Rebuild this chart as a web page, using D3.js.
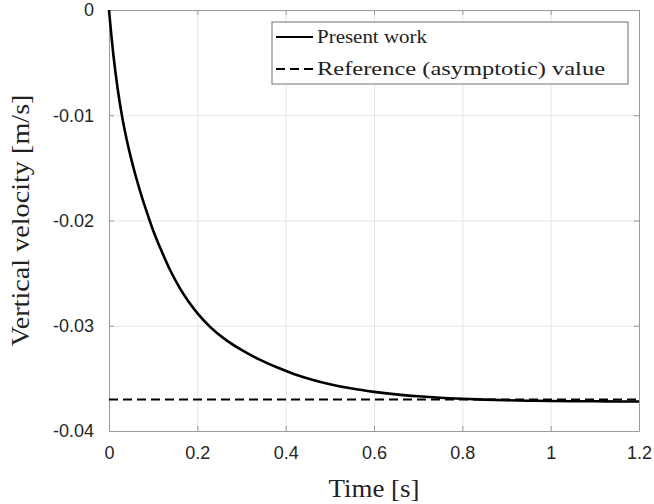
<!DOCTYPE html>
<html>
<head>
<style>
    body { margin: 0; background: #fff; }
    .tick text { font-family: "Liberation Sans", Arial, sans-serif; font-size: 18px; fill: #262626; }
    .frame path, .frame line { stroke: #9a9a9a; }
    .grid line { stroke: #e6e6e6; }
    .grid path { display: none; }
    .label { font-family: "Liberation Serif", "DejaVu Serif", serif; fill: #222; }
</style>
</head>
<body>
    <svg id="container" width="654" height="504">
        <g id="body" transform="translate(109, 10)"></g>
    </svg>
<script src="https://d3js.org/d3.v7.min.js"></script>
<script>
    // time [s] and vertical velocity [m/s]
    const timeValues = [0, 0.01, 0.02, 0.03, 0.04, 0.05, 0.06, 0.07, 0.08, 0.09, 0.10,
        0.12, 0.14, 0.16, 0.18, 0.20, 0.23, 0.26, 0.30, 0.34, 0.38, 0.42, 0.46, 0.50,
        0.55, 0.60, 0.65, 0.70, 0.75, 0.80, 0.85, 0.90, 0.95, 1.00, 1.05, 1.10, 1.15, 1.20];
    const presentWork = [0, -0.0043, -0.0076, -0.0102, -0.0123, -0.0141, -0.0157, -0.01715, -0.0185, -0.01975, -0.02095,
        -0.0230, -0.02485, -0.0264, -0.0277, -0.0288, -0.03015, -0.0312, -0.0323, -0.0332, -0.03395, -0.0346, -0.03512, -0.03555,
        -0.03597, -0.03628, -0.03652, -0.0367, -0.03684, -0.03694, -0.03702, -0.03708, -0.03712, -0.03715, -0.03717, -0.03718, -0.03719, -0.0372];
    const referenceValue = -0.037;
    const xTicks = [0, 0.2, 0.4, 0.6, 0.8, 1, 1.2];
    const yTicks = [0, -0.01, -0.02, -0.03, -0.04];
    const legendNames = ["Present work", "Reference (asymptotic) value"];
    const legendDash = ["none", "9,5"];

    let body = d3.select("#body");
    let bodyWidth = 530;
    let bodyHeight = 421;

    let xScale = d3.scaleLinear().domain([0, 1.2]).range([0, bodyWidth]);
    let yScale = d3.scaleLinear().domain([-0.04, 0]).range([bodyHeight, 0]);

    // grid
    body.append("g").attr("class", "grid")
        .attr("transform", "translate(0," + bodyHeight + ")")
        .call(d3.axisBottom(xScale).tickValues(xTicks).tickSize(-bodyHeight).tickFormat(""));
    body.append("g").attr("class", "grid")
        .call(d3.axisLeft(yScale).tickValues(yTicks).tickSize(-bodyWidth).tickFormat(""));

    // box with inward ticks
    let fmtX = (d) => String(+d.toFixed(1));
    let fmtY = (d) => d === 0 ? "0" : d.toFixed(2);
    body.append("g").attr("class", "frame")
        .attr("transform", "translate(0," + bodyHeight + ")")
        .call(d3.axisBottom(xScale).tickValues(xTicks).tickSizeInner(-5).tickSizeOuter(0).tickPadding(15).tickFormat(fmtX));
    body.append("g").attr("class", "frame")
        .call(d3.axisLeft(yScale).tickValues(yTicks).tickSizeInner(-5).tickSizeOuter(0).tickPadding(15).tickFormat(fmtY));
    body.append("g").attr("class", "frame")
        .call(d3.axisTop(xScale).tickValues(xTicks).tickSizeInner(-5).tickSizeOuter(0).tickFormat(""));
    body.append("g").attr("class", "frame")
        .attr("transform", "translate(" + bodyWidth + ",0)")
        .call(d3.axisRight(yScale).tickValues(yTicks).tickSizeInner(-5).tickSizeOuter(0).tickFormat(""));
    body.selectAll(".frame .tick text").attr("fill", "#262626");

    // reference line
    body.append("line")
        .attr("x1", xScale(0)).attr("x2", xScale(1.2))
        .attr("y1", yScale(referenceValue)).attr("y2", yScale(referenceValue))
        .attr("stroke", "black").attr("stroke-width", 2).attr("stroke-dasharray", "9,5");

    // present work curve
    let data = timeValues.map((t, i) => ({t: t, v: presentWork[i]}));
    let valueline = d3.line()
        .x((d) => xScale(d.t))
        .y((d) => yScale(d.v))
        .curve(d3.curveMonotoneX);
    body.append("path")
        .datum(data)
        .attr("d", valueline)
        .attr("fill", "none")
        .attr("stroke", "black")
        .attr("stroke-width", 2.6);

    // axis labels
    let svg = d3.select("#container");
    svg.append("text").attr("class", "label")
        .attr("x", 109 + bodyWidth / 2).attr("y", 497)
        .attr("text-anchor", "middle").attr("font-size", 25)
        .attr("textLength", 91).attr("lengthAdjust", "spacingAndGlyphs")
        .text("Time [s]");
    svg.append("text").attr("class", "label")
        .attr("transform", "translate(29," + (10 + bodyHeight / 2) + ") rotate(-90)")
        .attr("text-anchor", "middle").attr("font-size", 25)
        .attr("textLength", 252).attr("lengthAdjust", "spacingAndGlyphs")
        .text("Vertical velocity [m/s]");

    // legend
    let legend = svg.append("g").attr("transform", "translate(272, 22)");
    legend.append("rect")
        .attr("width", 356).attr("height", 62)
        .attr("fill", "white").attr("stroke", "#707070").attr("stroke-width", 1);
    let legendWidths = [110, 288];
    let rows = legend.selectAll(".row")
        .data(legendNames)
        .enter()
        .append("g")
        .attr("transform", (d, i) => "translate(0," + (15 + i * 32) + ")");
    rows.append("line")
        .attr("x1", 4).attr("x2", 41)
        .attr("stroke", "black").attr("stroke-width", 2)
        .attr("stroke-dasharray", (d, i) => legendDash[i]);
    rows.append("text").attr("class", "label")
        .attr("x", 45).attr("y", 6)
        .attr("font-size", 19)
        .attr("textLength", (d, i) => legendWidths[i]).attr("lengthAdjust", "spacingAndGlyphs")
        .text((d) => d);
</script>
</body>
</html>
